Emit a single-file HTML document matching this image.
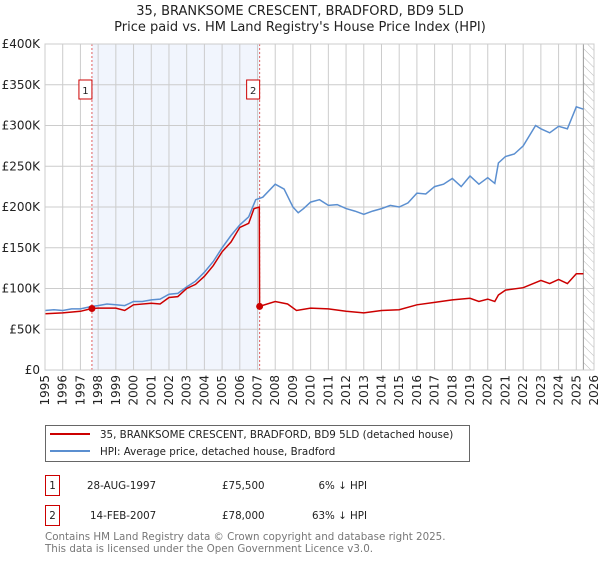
<!DOCTYPE html>
<html><head><meta charset="utf-8"><style>
body{margin:0;background:#fff;font-family:"DejaVu Sans","Liberation Sans",sans-serif;}
svg text{font-family:"DejaVu Sans","Liberation Sans",sans-serif;}
</style></head><body>
<svg id="c" width="600" height="560" xmlns="http://www.w3.org/2000/svg">
<defs><pattern id="hatch" width="6" height="6" patternUnits="userSpaceOnUse" patternTransform="rotate(-45)"><line x1="0" y1="0" x2="0" y2="6" stroke="#bbb" stroke-width="1"/></pattern></defs>
<text x="300" y="15" text-anchor="middle" font-size="13" fill="#222">35, BRANKSOME CRESCENT, BRADFORD, BD9 5LD</text>
<text x="300" y="31" text-anchor="middle" font-size="13" fill="#222">Price paid vs. HM Land Registry's House Price Index (HPI)</text>
<g id="plot"></g>
<g>
<rect x="45.5" y="425.5" width="424" height="36" fill="#fff" stroke="#666"/>
<line x1="50" y1="434" x2="90" y2="434" stroke="#cc0000" stroke-width="2"/>
<text x="100" y="438" font-size="10.3" fill="#222">35, BRANKSOME CRESCENT, BRADFORD, BD9 5LD (detached house)</text>
<line x1="50" y1="451" x2="90" y2="451" stroke="#5b8fd0" stroke-width="2"/>
<text x="100" y="455" font-size="10.3" fill="#222">HPI: Average price, detached house, Bradford</text>
</g>
<g font-size="10.3" fill="#222">
<rect x="45.5" y="475.5" width="14" height="20" fill="#fff" stroke="#cc0000"/>
<text x="52.5" y="489" text-anchor="middle">1</text>
<text x="87" y="489">28-AUG-1997</text>
<text x="222" y="489">£75,500</text>
<text x="367" y="489" text-anchor="end">6% ↓ HPI</text>
<rect x="45.5" y="505.5" width="14" height="20" fill="#fff" stroke="#cc0000"/>
<text x="52.5" y="519" text-anchor="middle">2</text>
<text x="90" y="519">14-FEB-2007</text>
<text x="222" y="519">£78,000</text>
<text x="367" y="519" text-anchor="end">63% ↓ HPI</text>
</g>
<text x="45" y="540" font-size="10.3" fill="#777">Contains HM Land Registry data © Crown copyright and database right 2025.</text>
<text x="45" y="552" font-size="10.3" fill="#777">This data is licensed under the Open Government Licence v3.0.</text>
</svg>
<script>
const yearTicks=[1995,1996,1997,1998,1999,2000,2001,2002,2003,2004,2005,2006,2007,2008,2009,2010,2011,2012,2013,2014,2015,2016,2017,2018,2019,2020,2021,2022,2023,2024,2025,2026];
const valueTicks=[0,50,100,150,200,250,300,350,400];
const valueLabels=["£0","£50K","£100K","£150K","£200K","£250K","£300K","£350K","£400K"];
const hpiDates=[1995,1995.5,1996,1996.5,1997,1997.65,1998,1998.5,1999,1999.5,2000,2000.5,2001,2001.5,2002,2002.5,2003,2003.5,2004,2004.5,2005,2005.5,2006,2006.5,2006.9,2007.3,2008,2008.5,2009,2009.3,2009.6,2010,2010.5,2011,2011.5,2012,2012.5,2013,2013.5,2014,2014.5,2015,2015.5,2016,2016.5,2017,2017.5,2018,2018.5,2019,2019.5,2020,2020.4,2020.6,2021,2021.5,2022,2022.7,2023,2023.5,2024,2024.5,2025,2025.4];
const hpiValues=[73,74,73,75,75,78,79,81,80,79,84,84,86,87,93,94,102,109,120,133,150,165,178,188,209,212,228,222,200,193,198,206,209,202,203,198,195,191,195,198,202,200,205,217,216,225,228,235,225,238,228,236,229,254,262,265,275,300,296,291,299,296,323,320];
const ppDates=[1995,1996,1997,1997.65,1998,1999,1999.5,2000,2001,2001.5,2002,2002.5,2003,2003.5,2004,2004.5,2005,2005.5,2006,2006.5,2006.8,2007.1,2007.12,2008,2008.7,2009.2,2010,2011,2012,2013,2014,2015,2016,2017,2018,2019,2019.5,2020,2020.4,2020.6,2021,2022,2023,2023.5,2024,2024.5,2025,2025.4];
const ppValues=[69,70,72,75.5,76,76,73,80,82,81,89,90,100,105,115,128,145,157,175,180,198,200,78,84,81,73,76,75,72,70,73,74,80,83,86,88,84,87,84,92,98,101,110,106,111,106,118,118];
const sales=[{d:1997.65,v:75.5,n:"1"},{d:2007.12,v:78,n:"2"}];

const X0=45,X1=594,Y0=370,Y1=44;
const sx=d=>X0+(d-1995)/(2026-1995)*(X1-X0);
const sy=v=>Y0-v/400*(Y0-Y1);
const NS="http://www.w3.org/2000/svg";
const g=document.getElementById('plot');
function mk(tag,attrs,parent){const e=document.createElementNS(NS,tag);for(const k in attrs)e.setAttribute(k,attrs[k]);(parent||g).appendChild(e);return e;}
let band=mk('rect',{x:sx(sales[0].d),y:Y1,width:sx(sales[1].d)-sx(sales[0].d),height:Y0-Y1,fill:'#eef3fc',opacity:0.8});


let fut=mk('rect',{x:sx(2025.4),y:Y1,width:X1-sx(2025.4),height:Y0-Y1,fill:'url(#hatch)'});


yearTicks.forEach(t=>{
  let l=mk('line',{x1:sx(t),x2:sx(t),y1:Y1,y2:Y0,stroke:'#ccc','stroke-width':1});
  
  
  let tx=mk('text',{x:0,y:0,'font-size':12,fill:'#222','text-anchor':'end',transform:`translate(${sx(t)+4},${Y0+5}) rotate(-90)`});
  tx.textContent=t;
  
  
});
valueTicks.forEach((v,i)=>{
  let l=mk('line',{x1:X0,x2:X1,y1:sy(v),y2:sy(v),stroke:'#ccc','stroke-width':1});
  
  
  let tx=mk('text',{x:40,y:sy(v)+4,'font-size':12,fill:'#222','text-anchor':'end'});
  tx.textContent=valueLabels[i];
  
  
});
let fl=mk('line',{x1:sx(2025.4),x2:sx(2025.4),y1:Y1,y2:Y0,stroke:'#999','stroke-width':1});


sales.forEach(s=>{
  let l=mk('line',{x1:sx(s.d),x2:sx(s.d),y1:Y1,y2:Y0,stroke:'#e06060','stroke-width':1,'stroke-dasharray':'2,2'});
  
  
});
const path=(ds,vs)=>ds.map((d,i)=>(i?'L':'M')+sx(d).toFixed(1)+','+sy(vs[i]).toFixed(1)).join('');
let hp=mk('path',{d:path(hpiDates,hpiValues),fill:'none',stroke:'#5b8fd0','stroke-width':1.5});


let pp=mk('path',{d:path(ppDates,ppValues),fill:'none',stroke:'#cc0000','stroke-width':1.5});


sales.forEach(s=>{
  let c=mk('circle',{cx:sx(s.d),cy:sy(s.v),r:3.5,fill:'#cc0000'});
  
  
  let r=mk('rect',{x:sx(s.d)-13,y:80,width:13,height:19,fill:'#fff',stroke:'#cc0000'});
  
  
  let t=mk('text',{x:sx(s.d)-6.5,y:94,'font-size':10,fill:'#222','text-anchor':'middle'});
  t.textContent=s.n;
  
  
});
let ax=mk('rect',{x:X0,y:Y1,width:X1-X0,height:Y0-Y1,fill:'none',stroke:'#ccc'});


</script>
</body></html>
